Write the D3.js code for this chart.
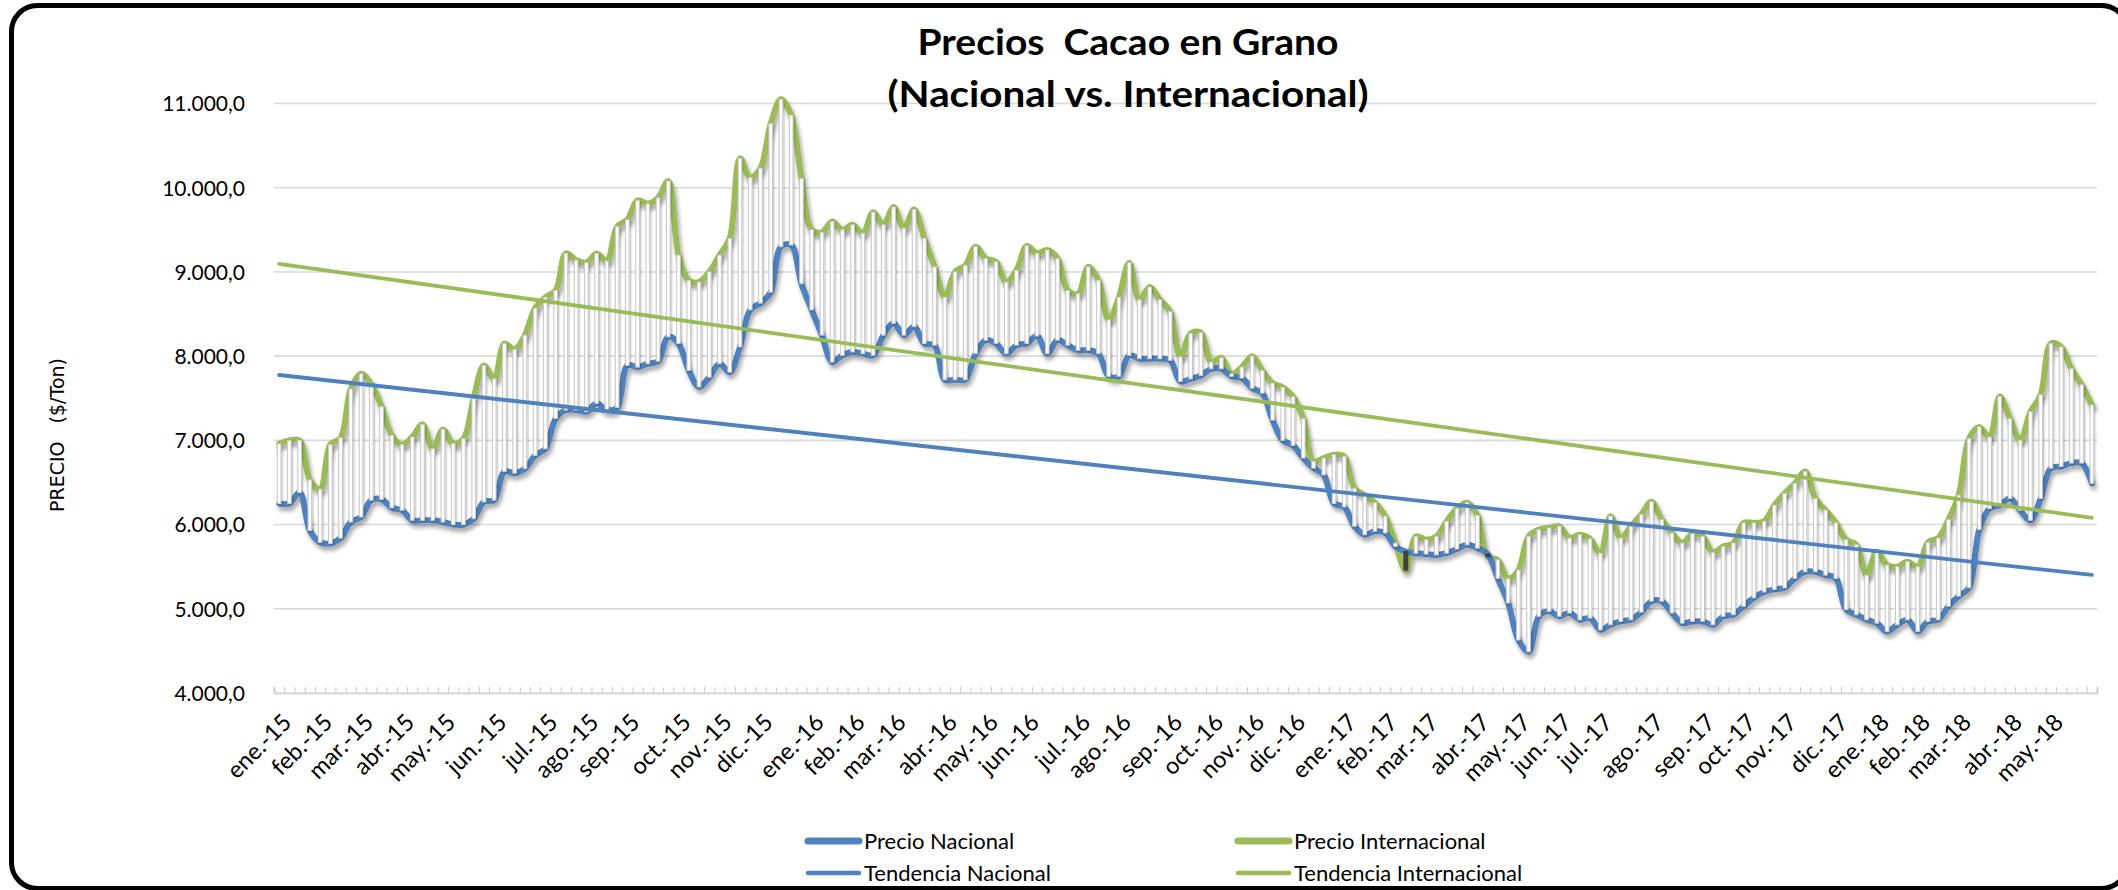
<!DOCTYPE html>
<html><head><meta charset="utf-8">
<script src="https://cdn.jsdelivr.net/npm/d3@7"></script>
<style>
body{margin:0;background:#fff;}
svg{display:block;}
text{font-family:Lato,"Open Sans",sans-serif;fill:#000;}
</style>
</head><body>
<svg id="chart" width="2118" height="890"></svg>
<script>
// ---------------- DATA ----------------
const titleLines = ["Precios  Cacao en Grano", "(Nacional vs. Internacional)"];
const yAxisTitle = "PRECIO   ($/Ton)";
const months = ["ene.-15","feb.-15","mar.-15","abr.-15","may.-15","jun.-15","jul.-15","ago.-15","sep.-15","oct.-15","nov.-15","dic.-15",
  "ene.-16","feb.-16","mar.-16","abr.-16","may.-16","jun.-16","jul.-16","ago.-16","sep.-16","oct.-16","nov.-16","dic.-16",
  "ene.-17","feb.-17","mar.-17","abr.-17","may.-17","jun.-17","jul.-17","ago.-17","sep.-17","oct.-17","nov.-17","dic.-17",
  "ene.-18","feb.-18","mar.-18","abr.-18","may.-18"];
// index of the first weekly observation of each month
const monthStart = [0,4,8,12,16,21,26,30,34,39,43,47,
  52,56,60,65,69,73,78,82,87,91,95,99,
  104,108,112,117,121,125,129,134,139,143,147,152,
  156,160,164,169,173];
const yTicks = [4000,5000,6000,7000,8000,9000,10000,11000];

const precioNacional = [
6250,6250,6380,5930,5790,5775,5840,6030,6090,6290,6300,6200,6170,6050,6050,6050,6030,6000,6000,6070,
6270,6290,6630,6610,6665,6820,6900,7260,7360,7360,7340,7440,7360,7390,7890,7870,7910,7940,8230,8150,
7830,7635,7750,7910,7810,8110,8550,8630,8760,9300,9320,8860,8550,8250,7930,8010,8050,8030,8010,8250,
8390,8250,8350,8150,8130,7720,7720,7720,8030,8190,8150,8030,8130,8150,8240,8030,8190,8130,8070,8070,
8030,7760,7760,8010,7970,7970,7970,7950,7700,7730,7770,7850,7850,7760,7740,7620,7560,7240,7000,6940,
6790,6670,6590,6250,6210,5980,5880,5920,5900,5740,5680,5660,5650,5640,5660,5710,5760,5720,5650,5360,
5070,4630,4490,4910,4970,4910,4950,4870,4890,4750,4810,4850,4870,4960,5090,5090,4950,4830,4850,4850,
4810,4910,4930,5030,5130,5200,5230,5250,5360,5440,5440,5400,5360,4990,4930,4870,4830,4730,4810,4870,
4730,4850,4870,5030,5150,5250,5940,6190,6230,6310,6170,6050,6310,6670,6690,6730,6730,6490];

const precioInternacional = [
6960,7000,7000,6530,6420,6950,7030,7610,7790,7670,7400,7060,6950,7040,7190,6900,7130,6960,7020,7500,
7890,7730,8150,8080,8250,8570,8700,8780,9220,9140,9110,9220,9130,9540,9620,9850,9810,9880,10080,9200,
8900,8880,9000,9200,9400,10350,10120,10230,10760,11050,10860,10110,9500,9470,9600,9500,9560,9460,9710,9560,
9770,9520,9740,9400,9060,8700,9000,9080,9300,9160,9120,8880,9020,9310,9220,9260,9160,8780,8740,9060,
8900,8430,8700,9110,8670,8820,8670,8530,7990,8270,8280,7930,7980,7790,7870,8000,7830,7680,7630,7520,
7260,6750,6790,6830,6810,6430,6350,6260,6100,5780,5460,5860,5820,5860,6040,6190,6260,6110,5620,5580,
5360,5460,5860,5940,5960,5980,5840,5880,5830,5660,6100,5840,5980,6120,6270,6060,5900,5780,5890,5860,
5670,5740,5780,6020,6020,6040,6230,6370,6490,6630,6310,6170,6020,5820,5760,5400,5680,5520,5500,5560,
5500,5790,5840,6060,6350,7020,7160,7040,7520,7260,7000,7340,7540,8150,8110,7850,7660,7420];

// linear trend lines (value at first and last week)
const tendenciaNacional = [7776, 5402];
const tendenciaInternacional = [9095, 6080];

const seriesNames = ["Precio Nacional","Precio Internacional","Tendencia Nacional","Tendencia Internacional"];
const colorNacional = "#4F81BD", colorInternacional = "#9BBB59";

// ---------------- CHART ----------------
const svg = d3.select("#chart");
const W = 2118, H = 890;
const plot = {left: 274, right: 2097, top: 103.5, bottom: 693};
const N = precioNacional.length;

const defs = svg.append("defs");
const f = defs.append("filter").attr("id","shadow").attr("filterUnits","userSpaceOnUse")
  .attr("x",0).attr("y",0).attr("width",W).attr("height",H);
f.append("feGaussianBlur").attr("in","SourceAlpha").attr("stdDeviation",2.2).attr("result","b");
f.append("feOffset").attr("in","b").attr("dx",1.5).attr("dy",3.5).attr("result","o");
f.append("feComponentTransfer").attr("in","o").attr("result","s")
  .append("feFuncA").attr("type","linear").attr("slope",0.35);
const fm = f.append("feMerge"); fm.append("feMergeNode").attr("in","s"); fm.append("feMergeNode").attr("in","SourceGraphic");

const fb = defs.append("filter").attr("id","barshadow").attr("filterUnits","userSpaceOnUse")
  .attr("x",0).attr("y",0).attr("width",W).attr("height",H);
fb.append("feGaussianBlur").attr("in","SourceAlpha").attr("stdDeviation",0.8).attr("result","b");
fb.append("feOffset").attr("in","b").attr("dx",1.2).attr("dy",1.2).attr("result","o");
fb.append("feComponentTransfer").attr("in","o").attr("result","s")
  .append("feFuncA").attr("type","linear").attr("slope",0.3);
const fbm = fb.append("feMerge"); fbm.append("feMergeNode").attr("in","s"); fbm.append("feMergeNode").attr("in","SourceGraphic");

// chart border
svg.append("rect").attr("x",11.5).attr("y",5.5).attr("width",2116).attr("height",883)
  .attr("rx",26).attr("ry",26).attr("fill","#fff").attr("stroke","#000").attr("stroke-width",5);

const x = d3.scaleBand().domain(d3.range(N)).range([plot.left, plot.right]).padding(0);
const xc = i => x(i) + x.bandwidth()/2;
const y = d3.scaleLinear().domain([4000, 11000]).range([plot.bottom, plot.top]);

const loc = d3.formatLocale({decimal: ",", thousands: ".", grouping: [3], currency: ["$",""]});
const fmt = loc.format(",.1f");

// gridlines
svg.append("g").selectAll("line").data(yTicks).join("line")
  .attr("x1",plot.left).attr("x2",plot.right)
  .attr("y1",d=>y(d)).attr("y2",d=>y(d))
  .attr("stroke","#d9d9d9").attr("stroke-width",1.6);

// y axis labels
const yAxis = d3.axisLeft(y).tickValues(yTicks).tickFormat(fmt).tickSize(0).tickPadding(0);
const gy = svg.append("g").attr("transform",`translate(245,0)`).call(yAxis);
gy.select(".domain").remove();
gy.selectAll("text").style("font-family","Lato, sans-serif").style("font-size","21px").attr("fill","#000").attr("dy","0.35em");

// x axis: minor tick marks at band boundaries
const xl = d3.scaleLinear().domain([0, N]).range([plot.left, plot.right]);
const gxt = svg.append("g").attr("transform",`translate(0,${plot.bottom})`)
  .call(d3.axisBottom(xl).tickValues(d3.range(N+1)).tickFormat("").tickSize(-6));
gxt.select(".domain").attr("stroke","#d9d9d9").attr("stroke-width",2.2);
gxt.selectAll(".tick line").attr("stroke","#c9c9c9").attr("stroke-width",1);

// month labels
const gx = svg.append("g").attr("transform",`translate(0,${plot.bottom})`)
  .call(d3.axisBottom(x).tickValues(monthStart).tickFormat((d,k)=>months[k]).tickSize(0));
gx.select(".domain").remove();
gx.selectAll(".tick text")
  .style("font-family","Lato, sans-serif").style("font-size","23.5px").attr("fill","#000")
  .attr("text-anchor","end")
  .attr("transform","translate(8,25) rotate(-45)")
  .attr("x",0).attr("y",0).attr("dy","0.35em");

// y axis title
svg.append("text").attr("transform","translate(57,435) rotate(-90)")
  .attr("text-anchor","middle").attr("dy","0.35em")
  .style("font-family","'DejaVu Sans', Verdana, sans-serif").style("font-size","19px")
  .style("white-space","pre").text(yAxisTitle);

// series lines (smoothed) with soft shadow
const line = d3.line().x((d,i)=>xc(i)).y(d=>y(d)).curve(d3.curveCatmullRom.alpha(0.5));
const gl = svg.append("g").attr("filter","url(#shadow)");
gl.append("path").datum(precioInternacional).attr("d",line).attr("fill","none")
  .attr("stroke",colorInternacional).attr("stroke-width",6).attr("stroke-linejoin","round").attr("stroke-linecap","round");
gl.append("path").datum(precioNacional).attr("d",line).attr("fill","none")
  .attr("stroke",colorNacional).attr("stroke-width",6).attr("stroke-linejoin","round").attr("stroke-linecap","round");

// up/down bars between the two series
const bw = 3.6;
svg.append("g").attr("filter","url(#barshadow)").selectAll("rect").data(d3.range(N)).join("rect")
  .attr("x",i=>xc(i)-bw/2).attr("width",bw)
  .attr("y",i=>y(Math.max(precioNacional[i],precioInternacional[i])))
  .attr("height",i=>Math.abs(y(precioNacional[i])-y(precioInternacional[i])))
  .attr("fill",i=>precioInternacional[i]>=precioNacional[i]?"#ffffff":"#404040")
  .attr("stroke",i=>precioInternacional[i]>=precioNacional[i]?"#c8c8c8":"#404040")
  .attr("stroke-width",1);

// trend lines
const trendX = [0, N-1];
const tline = d3.line().x((d,k)=>xc(trendX[k])).y(d=>y(d));
svg.append("path").datum(tendenciaInternacional).attr("d",tline).attr("fill","none")
  .attr("stroke",colorInternacional).attr("stroke-width",3.8).attr("stroke-linecap","round");
svg.append("path").datum(tendenciaNacional).attr("d",tline).attr("fill","none")
  .attr("stroke",colorNacional).attr("stroke-width",3.8).attr("stroke-linecap","round");

// title
const tg = svg.append("g").style("font-family","Lato, sans-serif").style("font-weight","bold").style("font-size","36px");
const tw = [421, 481];
tg.selectAll("text").data(titleLines).join("text")
  .attr("x",1128).attr("y",(d,k)=>k===0?55:107).attr("text-anchor","middle")
  .style("white-space","pre").text(d=>d)
  .attr("textLength",(d,k)=>tw[k]).attr("lengthAdjust","spacingAndGlyphs");

// legend
const legend = [
  {name: seriesNames[0], color: colorNacional, w: 7, x: 806, y: 841},
  {name: seriesNames[1], color: colorInternacional, w: 7, x: 1236, y: 841},
  {name: seriesNames[2], color: colorNacional, w: 4.5, x: 806, y: 873},
  {name: seriesNames[3], color: colorInternacional, w: 4.5, x: 1236, y: 873}
];
const lg = svg.append("g");
legend.forEach(d=>{
  lg.append("line").attr("x1",d.x+2).attr("x2",d.x+53).attr("y1",d.y).attr("y2",d.y)
    .attr("stroke",d.color).attr("stroke-width",d.w).attr("stroke-linecap","round");
  lg.append("text").attr("x",d.x+58).attr("y",d.y).attr("dy","0.35em")
    .style("font-family","Lato, sans-serif").style("font-size","22px").text(d.name);
});
</script>
</body></html>
